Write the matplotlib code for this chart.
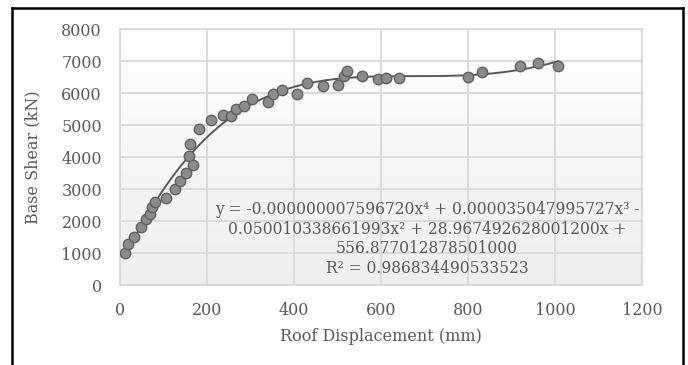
import matplotlib.pyplot as plt
import numpy as np

# roof displacement (mm) and base shear (kN)
disp = [12, 19, 32, 48, 60, 69, 74, 80, 105, 127, 139, 151, 158, 160, 167,
        181, 209, 237, 255, 267, 286, 303, 340, 352, 373, 407, 430, 466,
        502, 514, 522, 556, 594, 612, 641, 800, 833, 919, 961, 1008]
shear = [990, 1280, 1510, 1820, 2060, 2220, 2430, 2580, 2730, 3010, 3260,
         3510, 4030, 4400, 3760, 4870, 5160, 5300, 5290, 5490, 5590, 5800,
         5710, 5980, 6080, 5960, 6320, 6220, 6260, 6530, 6690, 6530, 6430,
         6480, 6480, 6490, 6650, 6840, 6930, 6840]

# trendline coefficients shown on the chart (x^4 ... x^0)
coef = [-0.000000007596720, 0.000035047995727, -0.050010338661993,
        28.967492628001200, 556.877012878501000]
r2 = 0.986834490533523

xticks = [0, 200, 400, 600, 800, 1000, 1200]
yticks = [0, 1000, 2000, 3000, 4000, 5000, 6000, 7000, 8000]

plt.rcParams['font.family'] = 'DejaVu Serif'
txt = '#595959'

fig = plt.figure(figsize=(6.88, 3.65), dpi=100)

# black frame around the chart, open at the bottom edge
frame = fig.add_axes([12/688, -0.1, 671/688, 1.1 - 8/365], zorder=-1)
frame.set_facecolor('none')
frame.set_xticks([])
frame.set_yticks([])
frame.spines['bottom'].set_visible(False)
for k in ['left', 'top', 'right']:
    frame.spines[k].set_color('black')
    frame.spines[k].set_linewidth(1.8)

ax = fig.add_axes([120/688, 1 - 285/365, 522/688, 256/365])

# light vertical gradient behind the plot area
grad = np.linspace(1.0, 0.93, 256).reshape(-1, 1)
ax.imshow(grad, cmap='gray', vmin=0, vmax=1, aspect='auto',
          extent=[0, 1, 0, 1], transform=ax.transAxes, zorder=0)

ax.set_xlim(0, 1200)
ax.set_ylim(0, 8000)
ax.set_xticks(xticks)
ax.set_yticks(yticks)
ax.grid(True, color='#d9d9d9', lw=1.3, zorder=1)
ax.set_axisbelow(True)
for s in ax.spines.values():
    s.set_color('#d9d9d9')
    s.set_linewidth(1.3)
ax.tick_params(length=0, labelsize=11.5, labelcolor=txt)
ax.tick_params(axis='y', pad=13)
ax.tick_params(axis='x', pad=12)

xs = np.linspace(min(disp), max(disp), 300)
ax.plot(xs, np.polyval(coef, xs), color='#595959', lw=1.4, zorder=3)
ax.scatter(disp, shear, s=56, facecolor='#8c8c8c', edgecolor='#5f5f5f',
           lw=1.0, zorder=4)

eq = ('y = -0.000000007596720x\u2074 + 0.000035047995727x\u00b3 -\n'
      '0.050010338661993x\u00b2 + 28.967492628001200x +\n'
      '556.877012878501000\n'
      'R\u00b2 = %.15f' % r2)
ax.text(427/688, 1 - 239/365, eq, transform=fig.transFigure, ha='center',
        va='center', multialignment='center', fontsize=11.2, color=txt,
        linespacing=1.22, zorder=5)

ax.set_xlabel('Roof Displacement (mm)', fontsize=11.5, color=txt, labelpad=7)
ax.set_ylabel('Base Shear (kN)', fontsize=11.5, color=txt, labelpad=14)

fig.savefig('out.png', dpi=100)
